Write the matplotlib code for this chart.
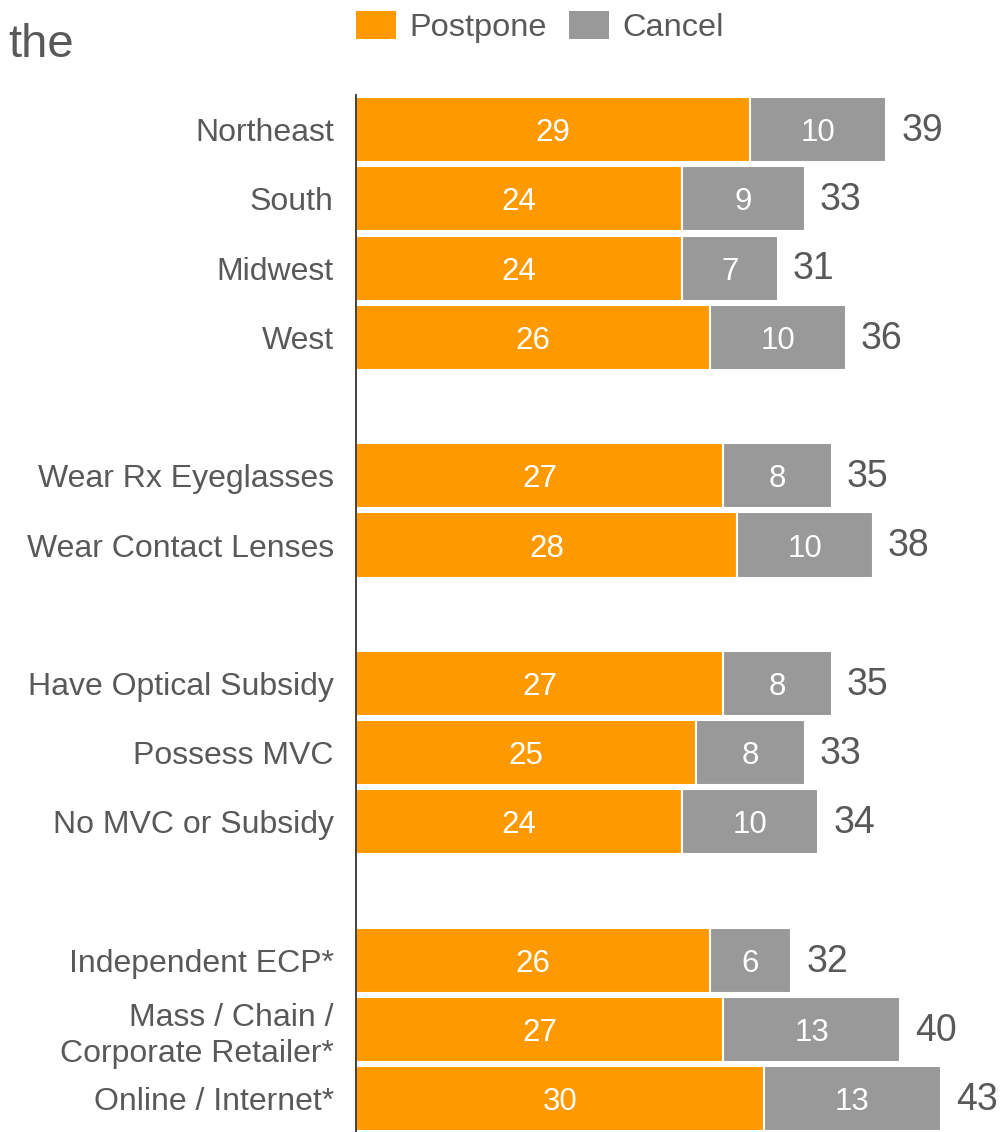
import matplotlib
matplotlib.use("Agg")
import matplotlib.pyplot as plt
from matplotlib.patches import Patch

plt.rcParams['font.family'] = ['Liberation Sans', 'DejaVu Sans']

# rows top to bottom; None marks the blank spacer rows between groups
categories = ["Northeast", "South", "Midwest", "West", None,
              "Wear Rx Eyeglasses", "Wear Contact Lenses", None,
              "Have Optical Subsidy", "Possess MVC", "No MVC or Subsidy", None,
              "Independent ECP*", "Mass / Chain /\nCorporate Retailer*", "Online / Internet*"]
postpone = [29, 24, 24, 26, None, 27, 28, None, 27, 25, 24, None, 26, 27, 30]
cancel = [10, 9, 7, 10, None, 8, 10, None, 8, 8, 10, None, 6, 13, 13]

ORANGE = "#FF9900"
GREY = "#999999"
TEXT = "#595959"

fig = plt.figure(figsize=(10, 11.32), dpi=100)
ax = fig.add_axes([0.356, 0.0, 0.644, 0.916])

ypos, labels = [], []
for i, cat in enumerate(categories):
    if cat is None:
        continue
    p, c = postpone[i], cancel[i]
    ax.barh(i, p, height=0.94, color=ORANGE, edgecolor="white", linewidth=1.5)
    ax.barh(i, c, left=p, height=0.94, color=GREY, edgecolor="white", linewidth=1.5)
    ax.text(p / 2, i, str(p), ha="center", va="center_baseline", color="white", fontsize=22.5)
    ax.text(p + c / 2, i, str(c), ha="center", va="center_baseline", color="white", fontsize=22.5)
    ax.text(p + c + 1.1, i - 0.04, str(p + c), ha="left", va="center_baseline",
            color=TEXT, fontsize=27)
    ypos.append(i)
    labels.append(cat)

ax.set_yticks(ypos)
ax.set_yticklabels(labels, fontsize=23, color=TEXT, linespacing=1.25)
ax.tick_params(axis="y", length=0, pad=16)
ax.set_xticks([])
ax.set_xlim(0, 47.35)
ax.set_ylim(14.48, -0.5)
for side in ["top", "right", "bottom"]:
    ax.spines[side].set_visible(False)
ax.spines["left"].set_color("#333333")
ax.spines["left"].set_linewidth(1.3)

handles = [Patch(facecolor=ORANGE, label="Postpone"), Patch(facecolor=GREY, label="Cancel")]
fig.legend(handles=handles, loc="upper left", bbox_to_anchor=(0.356, 0.99), ncol=2,
           frameon=False, fontsize=23.4, labelcolor=TEXT, handlelength=1.23, handleheight=0.92,
           handletextpad=0.4, columnspacing=0.7, borderpad=0.0, borderaxespad=0.0)

fig.text(0.008, 0.96, "the", fontsize=34, color=TEXT, ha="left", va="center")

fig.savefig("out.png", dpi=100)
